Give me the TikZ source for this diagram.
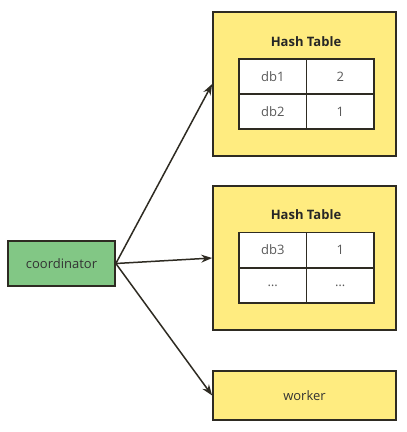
\documentclass[tikz,border=0pt]{standalone}
\usepackage{fontspec}
\setmainfont{Open Sans}
\usetikzlibrary{arrows.meta}

\definecolor{boxyellow}{HTML}{FFEC80}
\definecolor{boxgreen}{HTML}{82C785}
\definecolor{edge}{HTML}{2E2B22}

\tikzset{
    panel/.style={draw=edge, line width=1.7pt, fill=boxyellow,
        minimum width=183pt, minimum height=144pt, inner sep=0pt,
        font=\fontsize{13}{15}\selectfont, text=black!80},
    agent/.style={draw=edge, line width=1.7pt, fill=boxgreen,
        minimum width=107pt, minimum height=45pt, inner sep=0pt,
        font=\fontsize{13}{15}\selectfont, text=black!80},
    cell/.style={draw=edge, line width=1.4pt, fill=white,
        minimum width=67.5pt, minimum height=35pt, inner sep=0pt,
        font=\fontsize{13}{15}\selectfont, text=black!65},
    heading/.style={font=\bfseries\fontsize{13}{15}\selectfont, text=black!85},
    link/.style={draw=edge, line width=1.5pt,
        -{Stealth[length=11pt, width=8pt]}}
}

\begin{document}
\begin{tikzpicture}[x=1pt, y=-1pt]
    \useasboundingbox (0, 0) rectangle (407, 432);
    \node[agent] (coordinator) at (61.5, 263.5) {coordinator};
    \node[panel] (table1) at (304.5, 84) {};
    \node[panel] (table2) at (304.5, 258) {};
    \node[panel, minimum height=49pt] (worker) at (304.5, 395.5) {worker};
    \node[heading] (title1) at (306, 42) {Hash Table};
    \node[heading] (title2) at (306, 215) {Hash Table};
    \foreach \y/\k/\v [count=\i] in {
        76.5/db1/2,
        111.5/db2/1,
        250/db3/1,
        285.5/{\ldots}/{\ldots}
    } {
        \node[cell] (key\i) at (272.75, \y) {\k};
        \node[cell] (val\i) at (340.25, \y) {\v};
    }
    \foreach \t in {table1, table2, worker}
        \draw[link] (coordinator.east) -- (\t.west);
\end{tikzpicture}
\end{document}
